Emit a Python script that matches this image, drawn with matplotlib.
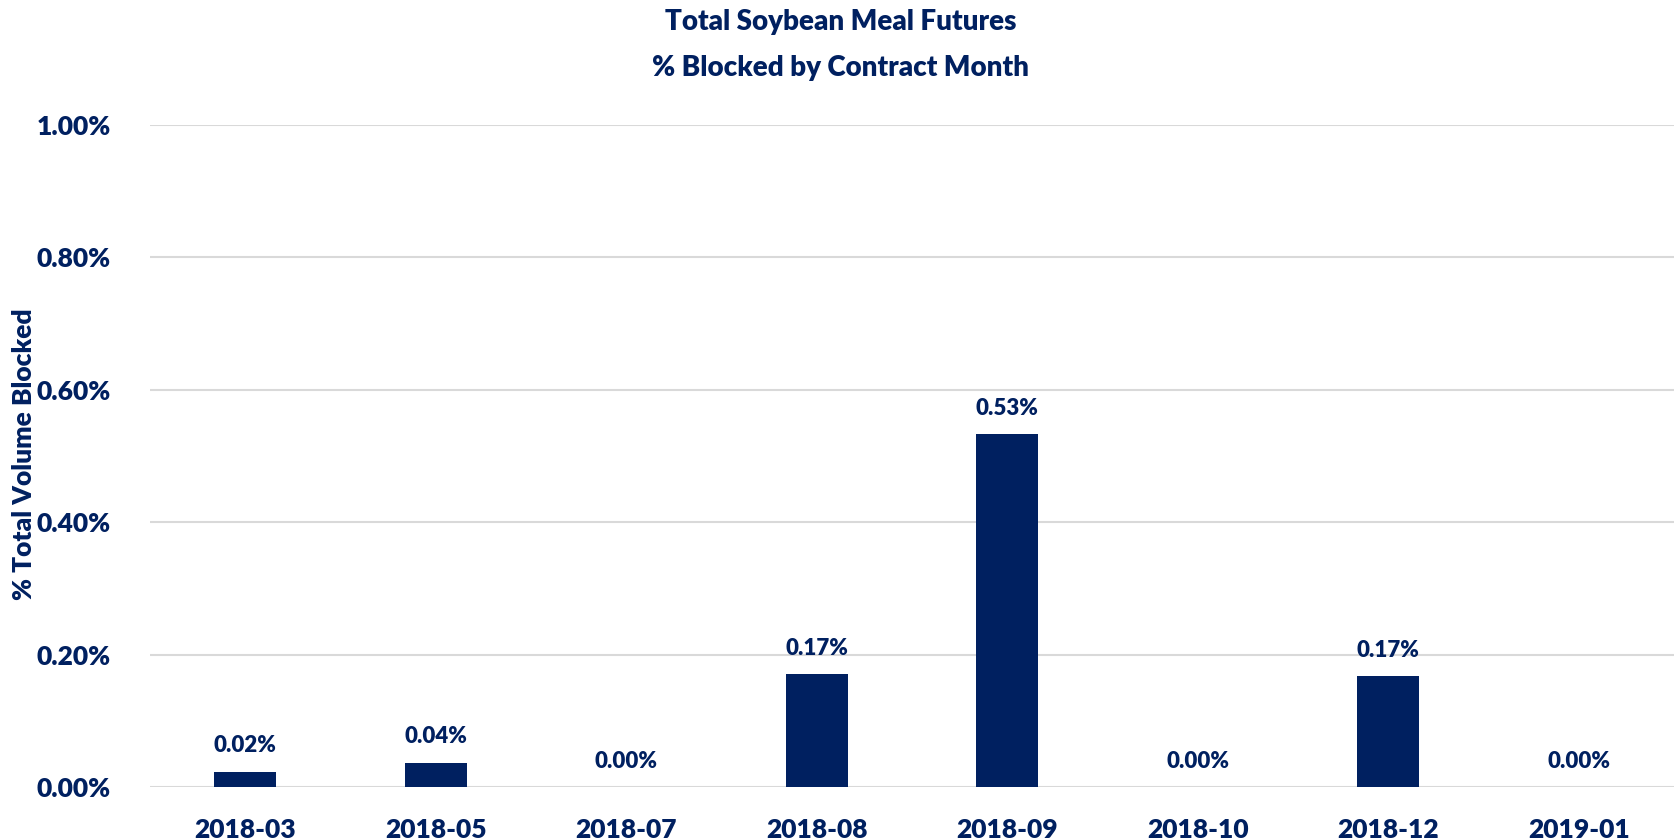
import numpy as np
import matplotlib
matplotlib.use("Agg")
import matplotlib.pyplot as plt

# contract months and % of total volume blocked
months = ["2018-03", "2018-05", "2018-07", "2018-08", "2018-09", "2018-10", "2018-12", "2019-01"]
pct_blocked = [0.023, 0.037, 0.0, 0.171, 0.533, 0.0, 0.168, 0.0]
yticks = [0.0, 0.2, 0.4, 0.6, 0.8, 1.0]

navy = "#002060"
plt.rcParams["font.family"] = ["Lato", "DejaVu Sans"]
plt.rcParams["font.weight"] = "heavy"

fig = plt.figure(figsize=(16.81, 8.39), dpi=100)
ax = fig.add_axes([150 / 1681, 1 - 787 / 839, 1524 / 1681, 662 / 839])

x = np.arange(len(months))
bars = ax.bar(x, pct_blocked, width=0.325, color=navy, zorder=3)

for xi, v in zip(x, pct_blocked):
    ax.annotate(f"{v:.2f}%", (xi, v), xytext=(0, 11), textcoords="offset points",
                ha="center", va="bottom", fontsize=16, fontweight="heavy", color=navy)

ax.set_xlim(-0.5, len(months) - 0.5)
ax.set_ylim(0, 1.0)
ax.set_yticks(yticks)
ax.set_yticklabels([f"{t:.2f}%" for t in yticks])
ax.set_xticks(x)
ax.set_xticklabels(months)
ax.tick_params(axis="both", length=0, labelsize=19, labelcolor=navy)
ax.tick_params(axis="x", pad=22)
ax.tick_params(axis="y", pad=28)
for lab in ax.get_xticklabels() + ax.get_yticklabels():
    lab.set_fontweight("heavy")

ax.grid(axis="y", color="#D9D9D9", linewidth=1.5, zorder=0)
for s in ax.spines.values():
    s.set_visible(False)

fig.text(24 / 1681, 1 - 454 / 839, "% Total Volume Blocked", rotation=90,
         ha="center", va="center", fontsize=19, fontweight="heavy", color=navy)
fig.text(0.5, 1 - 22 / 839, "Total Soybean Meal Futures", ha="center", va="center",
         fontsize=20, fontweight="heavy", color=navy)
fig.text(0.5, 1 - 68 / 839, "% Blocked by Contract Month", ha="center", va="center",
         fontsize=20, fontweight="heavy", color=navy)

fig.savefig("out.png", dpi=100)
